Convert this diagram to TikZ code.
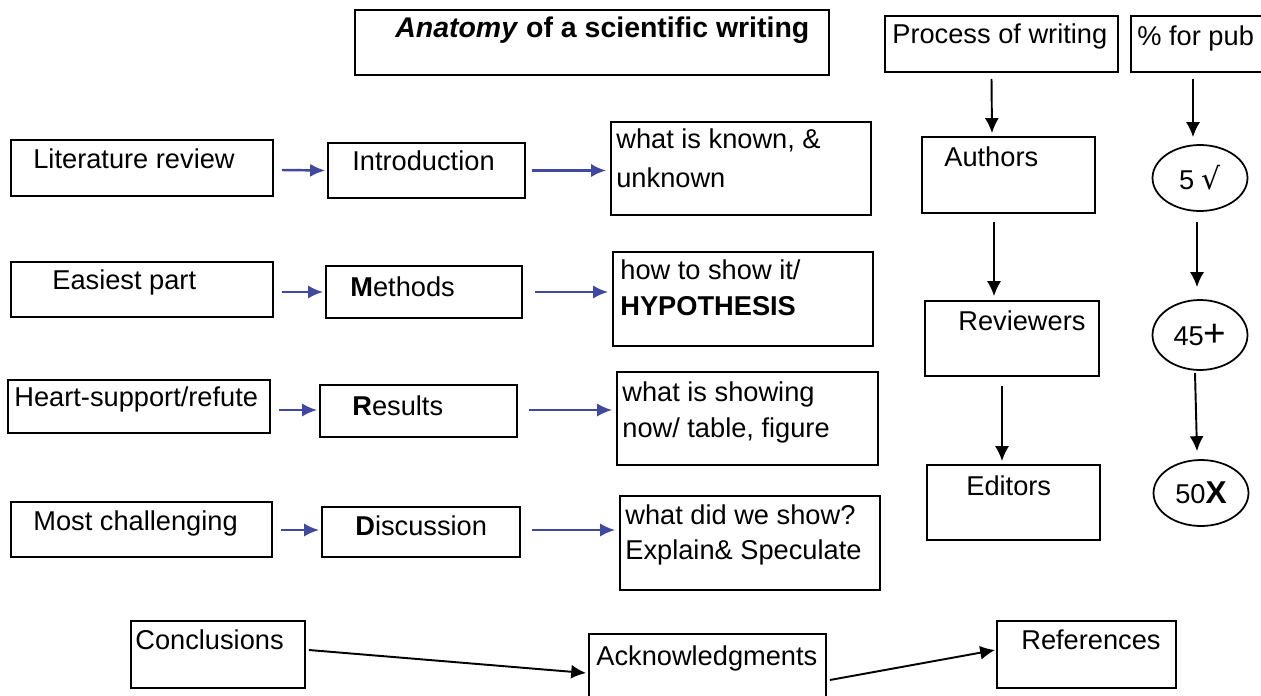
\documentclass[tikz,border=0pt]{standalone}
\usepackage{fontspec}
\setmainfont{Liberation Sans}
\newfontfamily\dejavu{DejaVu Sans}
\usetikzlibrary{arrows.meta,shapes.geometric,fit,calc}
\definecolor{arrblue}{RGB}{64,72,160}
\begin{document}
\begin{tikzpicture}[x=0.02cm,y=-0.02cm,
  box/.style={draw, line width=1pt, inner sep=0pt},
  oval/.style={draw, ellipse, line width=1pt, inner sep=0pt, minimum width=1.9cm, minimum height=1.32cm, font=\fontsize{15.5}{19}\selectfont},
  txt/.style={inner sep=0pt, anchor=base west, font=\fontsize{15.5}{19}\selectfont},
  barrow/.style={draw=arrblue, line width=1.4pt, -{Latex[length=8.5pt,width=7.5pt]}},
  karrow/.style={draw=black, line width=1.1pt, -{Latex[length=8.5pt,width=8pt]}}]
\useasboundingbox (0,0) rectangle (1261,696);
% title
\node[box, fit={(355,10) (829,75)}] (title) {};
\node[txt, font=\fontsize{16.2}{19}\selectfont\bfseries] (tt) at (395,38) {\textit{Anatomy} of a scientific writing};
% right headers
\node[box, fit={(885,16) (1118,72)}] (proc) {};
\node[txt] (tproc) at (892,44) {Process of writing};
\node[box, fit={(1131,16) (1275,72)}] (pct) {};
\node[txt] (tpct) at (1137,46) {\% for pub};
% row 1
\node[box, fit={(11,140) (273,196)}] (lit) {};
\node[txt] (tlit) at (33,169) {Literature review};
\node[box, fit={(328,143) (525,198)}] (intro) {};
\node[txt] (tintro) at (352,171) {Introduction};
\node[box, fit={(611,122) (871,215)}] (known) {};
\node[txt] (tk1) at (616,149) {what is known, \&};
\node[txt] (tk2) at (616,187) {unknown};
\node[box, fit={(922,137) (1095,213)}] (auth) {};
\node[txt] (tauth) at (944,167) {Authors};
\node[oval] (e1) at (1200,178) {5 {\dejavu\fontsize{17}{17}\selectfont √}};
% row 2
\node[box, fit={(11,262) (273,317)}] (easy) {};
\node[txt] (teasy) at (52,289) {Easiest part};
\node[box, fit={(326,266) (522,318)}] (meth) {};
\node[txt] (tmeth) at (350,296) {\textbf{M}ethods};
\node[box, fit={(613,252) (873,346)}] (how) {};
\node[txt] (th1) at (620,279) {how to show it/};
\node[txt, font=\fontsize{15.5}{19}\selectfont\bfseries] (th2) at (620,315) {HYPOTHESIS};
\node[box, fit={(925,301) (1099,376)}] (rev) {};
\node[txt] (trev) at (958,330) {Reviewers};
\node[oval, minimum height=1.4cm] (e2) at (1200,335) {45{\fontsize{22}{22}\selectfont\raisebox{-0.5pt}{+}}};
% row 3
\node[box, fit={(8,380) (270,433)}] (heart) {};
\node[txt] (theart) at (14,406) {Heart-support/refute};
\node[box, fit={(320,385) (517,437)}] (res) {};
\node[txt] (tres) at (352,415) {\textbf{R}esults};
\node[box, fit={(617,372) (878,465)}] (show) {};
\node[txt] (ts1) at (622,401) {what is showing};
\node[txt] (ts2) at (622,437) {now/ table, figure};
\node[box, fit={(927,465) (1100,540)}] (edit) {};
\node[txt] (tedit) at (966,495) {Editors};
\node[oval] (e3) at (1201,493) {50{\fontsize{18}{18}\selectfont\bfseries X}};
% row 4
\node[box, fit={(11,502) (272,557)}] (most) {};
\node[txt] (tmost) at (33,530) {Most challenging};
\node[box, fit={(322,507) (520,557)}] (disc) {};
\node[txt] (tdisc) at (355,535) {\textbf{D}iscussion};
\node[box, fit={(620,496) (880,590)}] (did) {};
\node[txt] (td1) at (625,524) {what did we show?};
\node[txt] (td2) at (625,559) {Explain\& Speculate};
% bottom
\node[box, fit={(131,621) (305,688)}] (concl) {};
\node[txt] (tconcl) at (135,649) {Conclusions};
\node[box, fit={(589,634) (826,702)}] (ack) {};
\node[txt] (tack) at (596,665) {Acknowledgments};
\node[box, fit={(997,621) (1176,688)}] (refs) {};
\node[txt] (trefs) at (1021,649) {References};
% blue arrows
\draw[barrow] ($(lit.east)+(8,2)$) -- ($(intro.west)+(-2,0)$);
\draw[barrow] ($(intro.east)+(6,0)$) -- ($(intro.east -| known.west)+(-4,0)$);
\draw[barrow] ($(easy.east |- meth.west)+(8,0)$) -- ($(meth.west)+(-2,0)$);
\draw[barrow] ($(meth.east)+(12,0)$) -- ($(meth.east -| how.west)+(-4,0)$);
\draw[barrow] ($(heart.east)+(8,3.5)$) -- ($(res.west)+(-2,-1)$);
\draw[barrow] ($(res.east)+(11,-1)$) -- ($(res.east -| show.west)+(-4,-1)$);
\draw[barrow] ($(most.east)+(8,0.5)$) -- ($(disc.west)+(-2,-2)$);
\draw[barrow] ($(disc.east)+(11,-2)$) -- ($(disc.east -| did.west)+(-4,-2)$);
% black arrows
\draw[karrow] ($(proc.south)+(-10,6)$) -- ($(auth.north)+(-16.5,-3)$);
\draw[karrow] ($(pct.south)+(-10,6)$) -- ($(e1.north)+(-7,-7)$);
\draw[karrow] ($(auth.south)+(-14.5,8)$) -- ($(rev.north)+(-18,-4)$);
\draw[karrow] ($(rev.south)+(-10,9)$) -- ($(edit.north)+(-11.5,-3)$);
\draw[karrow] ($(e1.south)+(-3,10)$) -- ($(e2.north)+(-3,-12)$);
\draw[karrow] ($(e2.south)+(-5,2)$) -- ($(e3.north)+(-4,-8)$);
\draw[karrow] ($(concl.east)+(3,-4.5)$) -- ($(ack.west)+(-2,5)$);
\draw[karrow] ($(ack.east)+(3,12)$) -- ($(refs.west)+(-1,-4.5)$);
\end{tikzpicture}
\end{document}
